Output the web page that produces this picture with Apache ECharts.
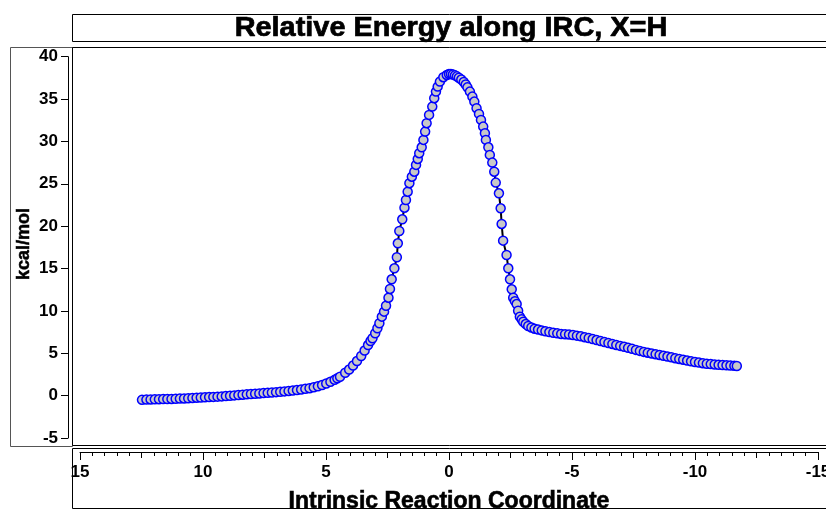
<!DOCTYPE html>
<html>
<head>
    <meta charset="utf-8">
    <title>Relative Energy along IRC</title>
    <script src="https://cdn.jsdelivr.net/npm/echarts@6/dist/echarts.min.js"></script>
    <style>
        html, body { margin: 0; padding: 0; background: #fff; }
        #echarts { width: 826px; height: 509px; }
    </style>
</head>
<body>
<div id="echarts"></div>
<script>
    // IRC 坐标 (x) 与相对能量 kcal/mol (y)
    var ircX = [
        12.48, 12.30, 12.13, 11.96, 11.79, 11.62, 11.45, 11.28, 11.11, 10.94,
        10.77, 10.60, 10.43, 10.26, 10.09, 9.92, 9.75, 9.58, 9.41, 9.24,
        9.07, 8.90, 8.73, 8.56, 8.39, 8.22, 8.05, 7.88, 7.71, 7.54,
        7.37, 7.20, 7.03, 6.86, 6.69, 6.52, 6.35, 6.18, 6.01, 5.84,
        5.67, 5.50, 5.33, 5.16, 4.99, 4.82, 4.65, 4.54, 4.43, 4.22,
        4.06, 3.90, 3.74, 3.57, 3.43, 3.29, 3.19, 3.11, 3.00, 2.91,
        2.83, 2.73, 2.64, 2.56, 2.46, 2.40, 2.33, 2.22, 2.12, 2.08,
        2.02, 1.90, 1.81, 1.75, 1.68, 1.61, 1.51, 1.41, 1.34, 1.27,
        1.21, 1.11, 1.04, 0.97, 0.91, 0.81, 0.68, 0.60, 0.53, 0.46,
        0.37, 0.23, 0.09, 0.00, -0.08, -0.16, -0.24, -0.32, -0.40, -0.50,
        -0.60, -0.68, -0.75, -0.85, -0.95, -1.03, -1.12, -1.22, -1.30, -1.39,
        -1.46, -1.50, -1.60, -1.66, -1.76, -1.84, -1.90, -2.03, -2.10, -2.14,
        -2.20, -2.34, -2.41, -2.48, -2.55, -2.61, -2.68, -2.75, -2.81, -2.88,
        -2.95, -3.02, -3.12, -3.22, -3.35, -3.48, -3.62, -3.77, -3.92, -4.08,
        -4.24, -4.40, -4.56, -4.72, -4.88, -5.04, -5.20, -5.36, -5.52, -5.68,
        -5.84, -6.00, -6.16, -6.32, -6.48, -6.64, -6.80, -6.96, -7.12, -7.28,
        -7.44, -7.60, -7.76, -7.92, -8.08, -8.24, -8.40, -8.56, -8.72, -8.88,
        -9.04, -9.20, -9.36, -9.52, -9.68, -9.84, -10.00, -10.16, -10.32, -10.48,
        -10.64, -10.80, -10.96, -11.12, -11.28, -11.44, -11.60, -11.70
    ];
    var energy = [
        -0.50, -0.47, -0.45, -0.44, -0.42, -0.41, -0.40, -0.39, -0.37, -0.35,
        -0.33, -0.31, -0.27, -0.24, -0.22, -0.20, -0.17, -0.15, -0.12, -0.09,
        -0.05, -0.02, 0.03, 0.07, 0.11, 0.15, 0.19, 0.22, 0.26, 0.30,
        0.33, 0.37, 0.41, 0.45, 0.50, 0.55, 0.60, 0.66, 0.72, 0.80,
        0.88, 0.98, 1.10, 1.25, 1.43, 1.63, 1.86, 2.04, 2.23, 2.70,
        3.08, 3.55, 4.08, 4.68, 5.32, 5.97, 6.45, 6.77, 7.36, 7.95,
        8.54, 9.32, 9.91, 10.61, 11.56, 12.59, 13.73, 15.03, 16.33, 17.98,
        19.43, 20.81, 22.18, 23.09, 24.07, 25.07, 25.84, 26.43, 27.23, 27.93,
        28.61, 29.31, 30.18, 31.16, 32.15, 33.13, 34.11, 35.10, 35.88, 36.47,
        37.06, 37.58, 37.85, 37.95, 37.96, 37.90, 37.80, 37.68, 37.52, 37.30,
        37.02, 36.72, 36.38, 35.88, 35.29, 34.70, 33.92, 33.25, 32.54, 31.75,
        30.97, 30.18, 29.31, 28.41, 27.50, 26.43, 25.14, 23.88, 22.11, 20.26,
        18.29, 16.60, 15.03, 13.73, 12.55, 11.56, 11.15, 10.81, 10.02, 9.32,
        9.00, 8.72, 8.45, 8.22, 8.05, 7.90, 7.80, 7.70, 7.60, 7.50,
        7.42, 7.35, 7.28, 7.25, 7.22, 7.15, 7.08, 7.00, 6.90, 6.80,
        6.68, 6.56, 6.45, 6.33, 6.21, 6.10, 5.98, 5.87, 5.76, 5.64,
        5.52, 5.40, 5.28, 5.16, 5.07, 4.98, 4.89, 4.80, 4.70, 4.61,
        4.52, 4.42, 4.33, 4.24, 4.14, 4.05, 3.97, 3.90, 3.83, 3.76,
        3.72, 3.68, 3.64, 3.61, 3.58, 3.55, 3.52, 3.50
    ];
    var xTicks = { min: -15, max: 15, interval: 5 };
    var yTicks = { min: -5, max: 40, interval: 5 };

    var seriesData = [];
    for (var i = 0; i < ircX.length; i++) {
        seriesData.push([ircX[i], energy[i]]);
    }

    var font = "'Liberation Sans', Arial, sans-serif";
    var myChart = echarts.init(document.getElementById('echarts'), null, { renderer: 'canvas' });
    var option = {
        animation: false,
        backgroundColor: '#fff',
        grid: { left: 80, right: 8, top: 56.7, bottom: 71, outerBoundsMode: 'none', containLabel: false },
        xAxis: [{
            type: 'value',
            inverse: true,
            position: 'bottom',
            min: xTicks.min,
            max: xTicks.max,
            interval: xTicks.interval,
            offset: 14,
            axisLine: { show: true, onZero: false, lineStyle: { color: '#000', width: 1 } },
            axisTick: { show: true, length: 8, lineStyle: { color: '#000' } },
            minorTick: { show: true, splitNumber: 10, length: 4, lineStyle: { color: '#000' } },
            splitLine: { show: false },
            axisLabel: {
                color: '#000', fontSize: 17, fontWeight: 'bold', fontFamily: font, margin: 12
            },
            name: 'Intrinsic Reaction Coordinate',
            nameLocation: 'middle',
            nameGap: 38,
            nameTextStyle: {
                color: '#000', fontSize: 23, fontWeight: 'bold', fontFamily: font,
                textBorderColor: '#000', textBorderWidth: 0.6
            }
        }, {
            type: 'value',
            inverse: true,
            position: 'bottom',
            min: xTicks.min,
            max: xTicks.max,
            interval: 2.5,
            offset: 14,
            axisLine: { show: false, onZero: false },
            axisTick: { show: true, length: 6, lineStyle: { color: '#000' } },
            splitLine: { show: false },
            axisLabel: { show: false }
        }],
        yAxis: {
            type: 'value',
            min: yTicks.min,
            max: yTicks.max,
            interval: yTicks.interval,
            offset: 12,
            axisLine: { show: true, onZero: false, lineStyle: { color: '#000', width: 1 } },
            axisTick: { show: true, length: 7, lineStyle: { color: '#000' } },
            splitLine: { show: false },
            axisLabel: {
                color: '#000', fontSize: 17, fontWeight: 'bold', fontFamily: font, margin: 10
            }
        },
        graphic: [
            { type: 'rect', shape: { x: 72.5, y: 14.5, width: 760, height: 27 }, style: { fill: 'none', stroke: '#000', lineWidth: 1 } },
            { type: 'rect', shape: { x: 10.5, y: 47.5, width: 62, height: 399 }, style: { fill: 'none', stroke: '#555', lineWidth: 1 } },
            { type: 'rect', shape: { x: 72.5, y: 47.5, width: 760, height: 398 }, style: { fill: 'none', stroke: '#000', lineWidth: 1 } },
            { type: 'rect', shape: { x: 72.5, y: 448.5, width: 760, height: 60 }, style: { fill: 'none', stroke: '#000', lineWidth: 1 } },
            {
                type: 'text', x: 451, y: 29, scaleX: 1.07,
                style: {
                    text: 'Relative Energy along IRC, X=H', x: 0, y: 0,
                    align: 'center', verticalAlign: 'middle',
                    font: 'bold 27px ' + font, fill: '#000',
                    stroke: '#000', lineWidth: 0.7
                }
            },
            {
                type: 'text', x: 24, y: 244, rotation: Math.PI / 2,
                style: {
                    text: 'kcal/mol', x: 0, y: 0,
                    align: 'center', verticalAlign: 'middle',
                    font: 'bold 18px ' + font, fill: '#000',
                    stroke: '#000', lineWidth: 0.5
                }
            }
        ],
        series: [{
            type: 'line',
            data: seriesData,
            showAllSymbol: true,
            symbol: 'circle',
            symbolSize: 9,
            itemStyle: { color: '#c8c8c8', borderColor: '#0000ff', borderWidth: 1.5 },
            lineStyle: { color: '#000', width: 2 },
            emphasis: { disabled: true }
        }]
    };
    myChart.setOption(option);
</script>
</body>
</html>
